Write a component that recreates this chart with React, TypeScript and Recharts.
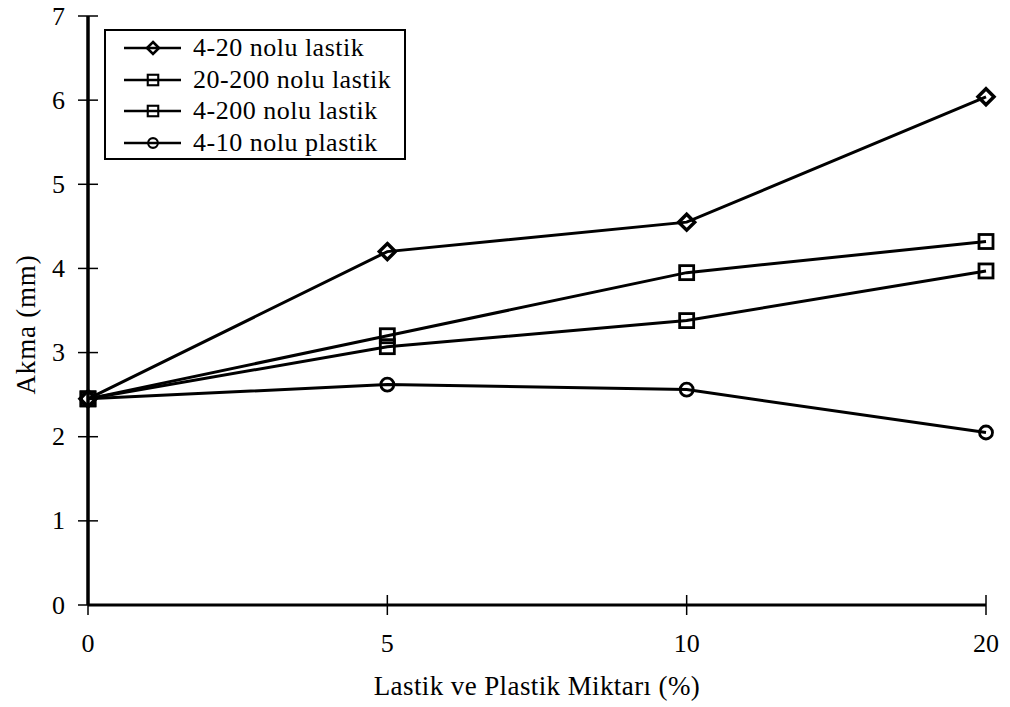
import React from 'react';
import { LineChart, Line, XAxis, YAxis, Legend } from 'recharts';

const categories = ['0', '5', '10', '20'];
const series1 = [2.45, 4.2, 4.55, 6.04];
const series2 = [2.45, 3.2, 3.95, 4.32];
const series3 = [2.45, 3.07, 3.38, 3.97];
const series4 = [2.45, 2.62, 2.56, 2.05];
const seriesNames = ['4-20 nolu lastik', '20-200 nolu lastik', '4-200 nolu lastik', '4-10 nolu plastik'];
const seriesMarkers = ['diamond', 'square', 'square', 'circle'];
const yTicks = [0, 1, 2, 3, 4, 5, 6, 7];

const data = categories.map((c, i) => ({
  x: c,
  s1: series1[i],
  s2: series2[i],
  s3: series3[i],
  s4: series4[i],
}));

const FONT = 'Liberation Serif, DejaVu Serif, serif';
const TICK = 10;
const TICK_MARGIN = 6;

function Marker({ kind, cx, cy, s = 1 }: { kind: string; cx: number; cy: number; s?: number }) {
  if (kind === 'diamond') {
    const r = 8 * s;
    return (
      <path
        d={`M${cx},${cy - r}L${cx + r},${cy}L${cx},${cy + r}L${cx - r},${cy}Z`}
        fill="none"
        stroke="#000"
        strokeWidth={3.5 * s}
      />
    );
  }
  if (kind === 'square') {
    const h = 7 * s;
    return <rect x={cx - h} y={cy - h} width={2 * h} height={2 * h} fill="none" stroke="#000" strokeWidth={2.8 * s} />;
  }
  return <circle cx={cx} cy={cy} r={6.5 * s} fill="none" stroke="#000" strokeWidth={2.8 * s} />;
}

const makeDot = (kind: string) => (props: any) => {
  const { cx, cy, index } = props;
  if (cx == null || cy == null) return <g key={index} />;
  return (
    <g key={`${kind}-${index}`}>
      <Marker kind={kind} cx={cx} cy={cy} />
    </g>
  );
};

const XTick = (props: any) => {
  const { x, y, payload } = props;
  const axisY = y - TICK - TICK_MARGIN;
  return (
    <g>
      <line x1={x} x2={x} y1={axisY - TICK} y2={axisY + TICK} stroke="#000" strokeWidth={1.5} />
      <text x={x} y={axisY + 38.5} textAnchor="middle" dominantBaseline="central" style={{ fontFamily: FONT, fontSize: 26 }} fill="#000">
        {payload.value}
      </text>
    </g>
  );
};

const YTick = (props: any) => {
  const { x, y, payload } = props;
  const axisX = x + TICK + TICK_MARGIN;
  return (
    <g>
      <line x1={axisX - TICK} x2={axisX + TICK} y1={y} y2={y} stroke="#000" strokeWidth={1.5} />
      <text x={axisX - 23} y={y} textAnchor="end" dominantBaseline="central" style={{ fontFamily: FONT, fontSize: 26 }} fill="#000">
        {payload.value}
      </text>
    </g>
  );
};

const YLabel = (props: any) => {
  const { viewBox } = props;
  const cx = viewBox.x + 26;
  const cy = viewBox.y + viewBox.height / 2 + 14;
  return (
    <text
      x={cx}
      y={cy}
      transform={`rotate(-90, ${cx}, ${cy})`}
      textAnchor="middle"
      dominantBaseline="central"
      style={{ fontFamily: FONT, fontSize: 27, letterSpacing: 0.8 }}
      fill="#000"
    >
      Akma (mm)
    </text>
  );
};

const XLabel = (props: any) => {
  const { viewBox } = props;
  const cx = viewBox.x + viewBox.width / 2;
  const cy = viewBox.y + viewBox.height - 21;
  return (
    <text x={cx} y={cy} textAnchor="middle" dominantBaseline="central" style={{ fontFamily: FONT, fontSize: 27, letterSpacing: 0.4 }} fill="#000">
      Lastik ve Plastik Miktarı (%)
    </text>
  );
};

const LegendBox = () => (
  <div
    style={{
      border: '2px solid #000',
      background: '#fff',
      width: 302,
      height: 131,
      boxSizing: 'border-box',
      padding: '1px 0 0 16px',
      fontFamily: FONT,
      fontSize: 26,
      letterSpacing: 0.5,
      color: '#000',
    }}
  >
    {seriesNames.map((name, i) => (
      <div key={name} style={{ display: 'flex', alignItems: 'center', height: 31.7 }}>
        <svg width={71} height={20} style={{ display: 'block' }}>
          <line x1={2} x2={59} y1={10} y2={10} stroke="#000" strokeWidth={2.5} />
          <Marker kind={seriesMarkers[i]} cx={31} cy={10} s={0.75} />
        </svg>
        <span style={{ whiteSpace: 'nowrap', lineHeight: '26px' }}>{name}</span>
      </div>
    ))}
  </div>
);

export default function App() {
  const keys = ['s1', 's2', 's3', 's4'];
  return (
    <div style={{ position: 'absolute', left: 0, top: 0, width: 1010, height: 707, background: '#fff' }}>
      <LineChart width={1010} height={707} data={data} margin={{ top: 16, right: 24, bottom: 0, left: 0 }}>
        <XAxis
          dataKey="x"
          height={102}
          tick={<XTick />}
          tickLine={false}
          tickSize={TICK}
          tickMargin={TICK_MARGIN}
          axisLine={{ stroke: '#000', strokeWidth: 3 }}
          interval={0}
          label={<XLabel />}
        />
        <XAxis
          xAxisId="top"
          orientation="top"
          dataKey="x"
          height={0}
          tick={false}
          tickLine={false}
          axisLine={{ stroke: '#000', strokeWidth: 2.5 }}
        />
        <YAxis
          width={88}
          domain={[0, 7]}
          ticks={yTicks}
          type="number"
          tick={<YTick />}
          tickLine={false}
          tickSize={TICK}
          tickMargin={TICK_MARGIN}
          axisLine={{ stroke: '#000', strokeWidth: 3.5 }}
          interval={0}
          label={<YLabel />}
        />
        <YAxis
          yAxisId="right"
          orientation="right"
          width={0}
          domain={[0, 7]}
          type="number"
          tick={false}
          tickLine={false}
          axisLine={{ stroke: '#000', strokeWidth: 2.5 }}
        />
        <Legend
          layout="vertical"
          align="center"
          verticalAlign="middle"
          content={<LegendBox />}
          wrapperStyle={{ left: 104, top: 29, width: 302, height: 131 }}
        />
        {keys.map((k, i) => (
          <Line
            key={k}
            type="linear"
            dataKey={k}
            name={seriesNames[i]}
            stroke="#000"
            strokeWidth={3}
            dot={makeDot(seriesMarkers[i])}
            activeDot={false}
            isAnimationActive={false}
          />
        ))}
      </LineChart>
    </div>
  );
}
